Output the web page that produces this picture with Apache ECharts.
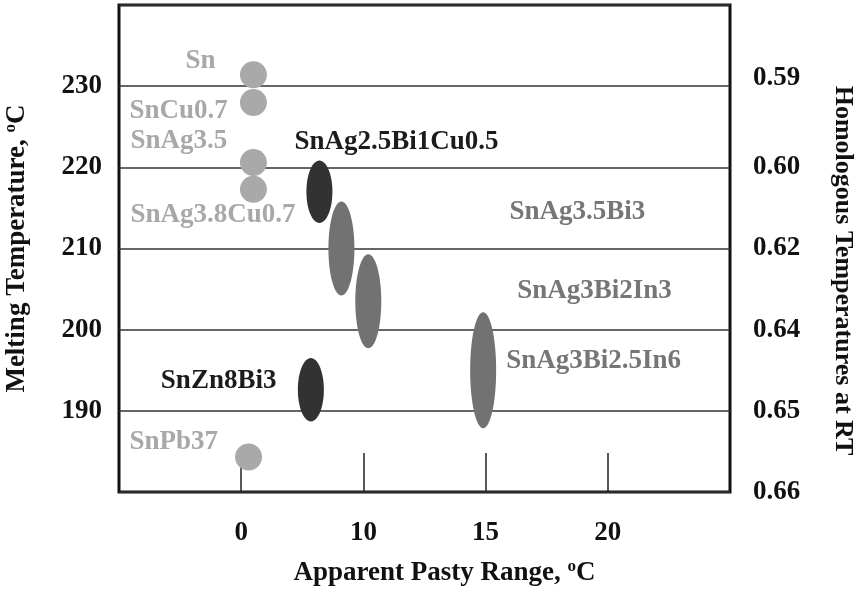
<!DOCTYPE html>
<html>
<head>
<meta charset="utf-8">
<script src="https://cdn.jsdelivr.net/npm/echarts@6/dist/echarts.min.js"></script>
<style>html,body{margin:0;padding:0;background:#fff}#c{width:859px;height:603px}</style>
</head>
<body>
<div id="c"></div>
<script>
// ---- data ----
const alloys      = ['Sn','SnCu0.7','SnAg3.5','SnAg3.8Cu0.7','SnAg2.5Bi1Cu0.5','SnAg3.5Bi3','SnAg3Bi2In3','SnAg3Bi2.5In6','SnZn8Bi3','SnPb37'];
const pastyRange  = [1.0, 1.0, 1.0, 1.0, 6.4, 8.2, 10.2, 14.9, 5.7, 0.6];          // °C (x)
const meltTemp    = [231.4, 228.0, 220.6, 217.3, 217.0, 210.0, 203.5, 195.0, 192.6, 184.3]; // °C centre (y)
const meltSpan    = [0, 0, 0, 0, 7.7, 11.6, 11.6, 14.3, 7.8, 0];                  // °C vertical extent
const shade       = ['light','light','light','light','dark','mid','mid','mid','dark','light'];
const xTickLabels = [0, 10, 15, 20];
const yTickLabels = [190, 200, 210, 220, 230];
const homologousLabels = ['0.59','0.60','0.62','0.64','0.65','0.66'];
const homologousAtTemp = [231, 220, 210, 200, 190, 180];

// ---- styling / layout (not data) ----
const fills = {light:'#a9a9a9', mid:'#727272', dark:'#323232'};
const textColors = {light:'#a8a8a8', mid:'#767676', dark:'#1c1c1c'};
const labelOffsets = [[-68,-14],[-124,9],[-123,-21],[-123,26],[-25,-50],[168,-36],[149,-10],[23,-9],[-150,-9],[-119,-15]];
const FONT = '"Liberation Serif","Times New Roman",serif';
const FS = 27;

// map pasty range (°C) onto the equally spaced tick positions of the original axis
function toAxis(v){
  for (let k = 0; k < xTickLabels.length - 1; k++) {
    const a = xTickLabels[k], b = xTickLabels[k+1];
    if (v <= b || k === xTickLabels.length - 2) return k + (v - a) / (b - a);
  }
}
const tickPos = xTickLabels.map((v,i)=>i);

const data = alloys.map((n,i)=>[toAxis(pastyRange[i]), meltTemp[i], meltSpan[i]]);

const chart = echarts.init(document.getElementById('c'), null, {renderer:'canvas'});
chart.setOption({
  animation:false,
  backgroundColor:'#fff',
  grid:{left:119, right:129, top:5, bottom:111, show:true, borderColor:'#111', borderWidth:3, backgroundColor:'transparent', outerBoundsMode:'none'},
  xAxis:{
    type:'value', min:-1, max:4, interval:1,
    axisLine:{show:false},
    splitLine:{show:false},
    axisTick:{show:true, inside:true, length:39, customValues:tickPos, lineStyle:{color:'#222', width:1.5}},
    axisLabel:{customValues:tickPos, margin:28, fontSize:FS, fontWeight:'bold', fontFamily:FONT, color:'#111',
      formatter:(v)=>String(xTickLabels[Math.round(v)])},
    name:'Apparent Pasty Range, {sup|o}C', nameLocation:'middle', nameGap:66,
    nameTextStyle:{fontSize:FS, fontWeight:'bold', fontFamily:FONT, color:'#111', padding:[0,0,0,40],
      rich:{sup:{fontSize:17, fontWeight:'bold', fontFamily:FONT, color:'#111', padding:[0,0,14,0]}}}
  },
  yAxis:[{
    type:'value', min:180, max:240, interval:10, position:'left',
    axisLine:{show:false}, axisTick:{show:false},
    splitLine:{show:true, lineStyle:{color:'#333', width:1.5}},
    axisLabel:{customValues:yTickLabels, margin:17, fontSize:FS, fontWeight:'bold', fontFamily:FONT, color:'#111'},
    name:'Melting Temperature, {sup|o}C', nameLocation:'middle', nameGap:86,
    nameTextStyle:{fontSize:FS, fontWeight:'bold', fontFamily:FONT, color:'#111',
      rich:{sup:{fontSize:17, fontWeight:'bold', fontFamily:FONT, color:'#111', padding:[0,0,14,0]}}}
  },{
    type:'value', min:180, max:240, interval:10, position:'right',
    axisLine:{show:false}, axisTick:{show:false}, splitLine:{show:false},
    axisLabel:{customValues:homologousAtTemp, margin:23, fontSize:FS, fontWeight:'bold', fontFamily:FONT, color:'#111',
      formatter:(v)=>homologousLabels[homologousAtTemp.indexOf(v)]},
    name:'Homologous Temperatures at RT', nameLocation:'middle', nameGap:100, nameRotate:-90,
    nameTextStyle:{fontSize:26, fontWeight:'bold', fontFamily:FONT, color:'#111', padding:[0,0,0,44]}
  }],
  series:[{
    type:'custom',
    data:data,
    z:5,
    renderItem:function(params, api){
      const i = params.dataIndex;
      const c = api.coord([api.value(0), api.value(1)]);
      const t = api.coord([api.value(0), api.value(1) + api.value(2)/2]);
      const ry = Math.max(13.5, c[1]-t[1]);
      const rx = api.value(2) > 0 ? 13 : 13.5;
      const off = labelOffsets[i];
      return {type:'group', children:[
        {type:'ellipse', shape:{cx:c[0], cy:c[1], rx:rx, ry:ry}, style:{fill:fills[shade[i]]}},
        {type:'text', x:c[0]+off[0], y:c[1]+off[1], style:{text:alloys[i], fill:textColors[shade[i]],
          fontSize:FS, fontWeight:'bold', fontFamily:FONT, align:'left', verticalAlign:'middle'}}
      ]};
    }
  }]
});
</script>
</body>
</html>
